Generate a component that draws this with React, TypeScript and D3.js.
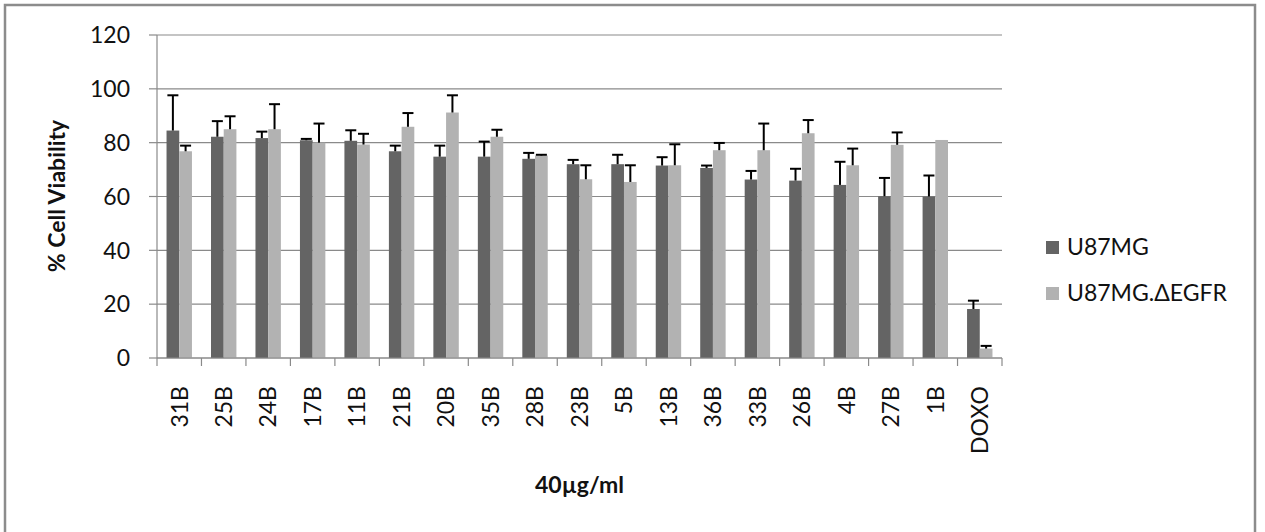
import React from "react";
import * as d3 from "d3";

// Compounds tested at 40 µg/ml, plus doxorubicin control
const categories = ["31B", "25B", "24B", "17B", "11B", "21B", "20B", "35B", "28B", "23B", "5B", "13B", "36B", "33B", "26B", "4B", "27B", "1B", "DOXO"];
const seriesNames = ["U87MG", "U87MG.ΔEGFR"];
const u87mg = [84.5, 82.2, 81.7, 80.9, 80.7, 76.8, 74.8, 74.8, 74.0, 72.0, 72.0, 71.5, 70.6, 66.3, 65.9, 64.3, 60.1, 60.0, 18.2];
const u87mgErr = [13.1, 5.8, 2.4, 0.5, 3.9, 2.1, 4.1, 5.6, 2.2, 1.6, 3.5, 3.1, 0.9, 3.2, 4.4, 8.6, 6.8, 7.8, 3.1];
const egfr = [76.8, 85.0, 85.0, 80.0, 79.3, 85.9, 91.2, 82.2, 75.2, 66.4, 65.4, 71.6, 77.2, 77.2, 83.5, 71.6, 79.2, 81.0, 3.5];
const egfrErr = [2.1, 4.8, 9.3, 7.1, 4.0, 5.1, 6.4, 2.6, 0.3, 5.2, 6.2, 7.8, 2.7, 9.9, 4.9, 6.2, 4.6, 0, 1.0];
const yTicks = [0, 20, 40, 60, 80, 100, 120];

const colors = ["#646464", "#b2b2b2"];
const FONT = "Lato, 'Open Sans', sans-serif";

export default function App() {
  const W = 1265;
  const H = 532;
  const left = 157;
  const right = 1002;
  const top = 35;
  const bottom = 358;

  const x = d3.scaleBand<string>().domain(categories).range([left, right]).paddingInner(0).paddingOuter(0);
  const xs = d3.scaleBand<string>().domain(seriesNames).range([0, x.bandwidth()]).paddingInner(0).paddingOuter(0.75);
  const y = d3.scaleLinear().domain([0, 120]).range([bottom, top]);

  const series = [
    { name: seriesNames[0], values: u87mg, errs: u87mgErr, color: colors[0] },
    { name: seriesNames[1], values: egfr, errs: egfrErr, color: colors[1] },
  ];

  const capHalf = 5.5;
  const boundaries = d3.range(categories.length + 1).map((i) => left + i * x.step());

  return (
    <svg width={W} height={H} style={{ position: "absolute", left: 0, top: 0, background: "#fff" }} fontFamily={FONT}>
      <rect x={5} y={5} width={1250} height={H + 10} fill="#fff" stroke="#8c8c8c" strokeWidth={2.5} />

      {/* gridlines */}
      {yTicks.map((t) => (
        <line key={"g" + t} x1={left} x2={right} y1={y(t)} y2={y(t)} stroke="#8a8a8a" strokeWidth={1.2} />
      ))}
      {/* y axis */}
      <line x1={left} x2={left} y1={top} y2={bottom} stroke="#8a8a8a" strokeWidth={1.2} />
      {yTicks.map((t) => (
        <g key={"yt" + t}>
          <line x1={left - 8} x2={left} y1={y(t)} y2={y(t)} stroke="#8a8a8a" strokeWidth={1.2} />
          <text x={130} y={y(t)} dy="0.36em" textAnchor="end" fontSize={23} fill="#111">
            {t}
          </text>
        </g>
      ))}

      {/* bars */}
      {series.map((s) =>
        categories.map((c, i) => (
          <rect
            key={s.name + c}
            x={(x(c) as number) + (xs(s.name) as number)}
            y={y(s.values[i])}
            width={xs.bandwidth()}
            height={y(0) - y(s.values[i])}
            fill={s.color}
          />
        ))
      )}

      {/* error bars (positive direction) */}
      {series.map((s) =>
        categories.map((c, i) => {
          if (!s.errs[i]) return null;
          const cx = (x(c) as number) + (xs(s.name) as number) + xs.bandwidth() / 2;
          const y0 = y(s.values[i]);
          const y1 = y(s.values[i] + s.errs[i]);
          return (
            <g key={"e" + s.name + c} stroke="#000" strokeWidth={2}>
              <line x1={cx} x2={cx} y1={y0} y2={y1} />
              <line x1={cx - capHalf} x2={cx + capHalf} y1={y1} y2={y1} />
            </g>
          );
        })
      )}

      {/* x axis */}
      <line x1={left} x2={right} y1={bottom} y2={bottom} stroke="#8a8a8a" strokeWidth={1.2} />
      {boundaries.map((bx, i) => (
        <line key={"xt" + i} x1={bx} x2={bx} y1={bottom} y2={bottom + 8} stroke="#8a8a8a" strokeWidth={1.2} />
      ))}
      {categories.map((c) => {
        const cx = (x(c) as number) + x.bandwidth() / 2;
        return (
          <text
            key={"xl" + c}
            transform={`translate(${cx},386) rotate(-90)`}
            textAnchor="end"
            dy="0.36em"
            fontSize={23}
            fill="#111"
          >
            {c}
          </text>
        );
      })}

      {/* axis titles */}
      <text x={(left + right) / 2} y={493} textAnchor="middle" fontSize={23} fontWeight="bold" fill="#111">
        40µg/ml
      </text>
      <text transform={`translate(65,196) rotate(-90)`} textAnchor="middle" fontSize={23} fontWeight="bold" fill="#111">
        % Cell Viability
      </text>

      {/* legend */}
      {series.map((s, i) => (
        <g key={"lg" + s.name} transform={`translate(1046,${255 + i * 46})`}>
          <rect x={0} y={-14} width={13} height={13} fill={s.color} />
          <text x={21} y={0} fontSize={23} fill="#111">
            {s.name}
          </text>
        </g>
      ))}
    </svg>
  );
}
